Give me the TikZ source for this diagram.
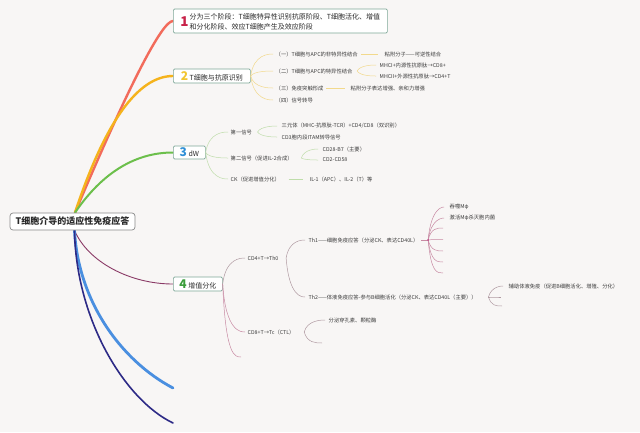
\documentclass[tikz,border=0pt]{standalone}
\usepackage{fontspec}
\setmainfont{Noto Sans CJK SC}
\usetikzlibrary{calc}
\definecolor{bgc}{HTML}{F8F6F5}
\definecolor{txt}{HTML}{3C3C3C}
\definecolor{txt2}{HTML}{2A2A2A}
\definecolor{boxc}{HTML}{7FA898}
\definecolor{rootc}{HTML}{8A8A8A}
\definecolor{la}{HTML}{F26B5B}
\definecolor{lb}{HTML}{F5B31C}
\definecolor{lc}{HTML}{6CBF4B}
\definecolor{ld}{HTML}{8A3A66}
\definecolor{le}{HTML}{4A8FE0}
\definecolor{lf}{HTML}{2D2A86}
\definecolor{tw2}{HTML}{F2D98C}
\definecolor{tw3}{HTML}{BFDDAA}
\definecolor{tw4}{HTML}{B09AA2}
\definecolor{tw4b}{HTML}{C88AA3}
\definecolor{na}{HTML}{C8234A}
\definecolor{nb}{HTML}{F2C530}
\definecolor{nc}{HTML}{2E8FD6}
\definecolor{nd}{HTML}{3A9D3A}
\definecolor{dotc}{HTML}{C04A88}
\pgfdeclarelayer{back}
\pgfsetlayers{back,main}
\newcommand{\dg}[2]{{\fontsize{12}{12}\selectfont\bfseries\textcolor{#1}{#2}}}
\newcommand{\twig}[3][]{\draw[#1] (#2) .. controls ($(#2 |- #3)+(3,0)$) and ($(#3)+(-6,0)$) .. (#3);}
\tikzset{
  sm/.style={font=\fontsize{5.3}{6.5}\selectfont, text=txt, inner sep=0.5pt, anchor=west},
  topic/.style={draw=boxc, line width=0.7pt, fill=white, rounded corners=1.2pt, inner sep=0pt,
    anchor=west, font=\fontsize{7}{8}\selectfont, text=txt2},
  mainln/.style={line cap=round},
  thin2/.style={tw2, line width=0.5pt},
  thin3/.style={tw3, line width=0.5pt},
  thin4/.style={tw4, line width=0.5pt},
  thin4b/.style={tw4b, line width=0.5pt},
}
\begin{document}
\begin{tikzpicture}[x=1pt,y=-1pt]
\useasboundingbox (0,0) rectangle (640,432);
\begin{pgfonlayer}{back}
\fill[bgc] (0,0) rectangle (640,432);
\end{pgfonlayer}

% root
\node[draw=rootc, line width=0.7pt, fill=white, rounded corners=3pt, minimum width=125pt,
  minimum height=17pt, inner sep=0pt, font=\fontsize{9}{9}\selectfont\bfseries, text=txt2]
  (root) at (72.5,221.5) {T细胞介导的适应性免疫应答};
\coordinate (rt) at ($(root.north)+(2.5,0)$);
\coordinate (rb) at ($(root.south)+(2,0)$);

% topic boxes
\node[topic, minimum width=214pt, minimum height=24pt] (b1) at (173,21) {};
\node[inner sep=0pt, font=\fontsize{13.5}{13.5}\selectfont\bfseries, text=na] (b1n) at (184.5,22) {1};
\node[inner sep=0pt, anchor=west, text=txt2, font=\fontsize{7}{9}\selectfont] (b1t1) at (189.5,17) {分为三个阶段：T细胞特异性识别抗原阶段、T细胞活化、增值};
\node[inner sep=0pt, anchor=west, text=txt2, font=\fontsize{7}{9}\selectfont] (b1t2) at (189.5,26.5) {和分化阶段、效应T细胞产生及效应阶段};
\node[topic, minimum width=77pt, minimum height=14pt] (b2) at (173,76) {\dg{nb}{2}\hspace{1.5pt}T细胞与抗原识别};
\node[topic, minimum width=32pt, minimum height=13pt] (b3) at (173,152.5) {\dg{nc}{3}\hspace{1.5pt}dW};
\node[topic, minimum width=49pt, minimum height=14pt] (b4) at (173,284) {\dg{nd}{4}\hspace{1.5pt}增值分化};

% free ends of the two untitled main branches
\coordinate (m5) at (173,388);
\coordinate (m6) at (173,423);

\begin{pgfonlayer}{back}
\draw[mainln, la, line width=2.4pt] (rt) .. controls (129,85) and (162,21) .. (b1.west);
\draw[mainln, lb, line width=2.4pt] (rt) .. controls (105,122) and (138,76) .. (b2.west);
\draw[mainln, lc, line width=2pt] (rt) .. controls (102,173) and (135,152.5) .. (b3.west);
\draw[mainln, ld, line width=0.9pt] (rb) .. controls (88,262) and (130,284) .. (b4.west);
\draw[mainln, le, line width=2.8pt] (rb) .. controls (78,300) and (120,360) .. (m5);
\draw[mainln, lf, line width=1.6pt] (rb) .. controls (76,320) and (125,400) .. (m6);
\end{pgfonlayer}

% branch 2
\node[sm] (c21) at (275,54) {（一）T细胞与APC的非特异性结合};
\node[sm] (c21a) at (384,54) {粘附分子——可逆性结合};
\node[sm] (c22) at (275,71) {（二）T细胞与APC的特异性结合};
\node[sm] (c22a) at (379,65) {MHCI+内源性抗原肽→CD8+};
\node[sm] (c22b) at (379,76) {MHCII+外源性抗原肽→CD4+T};
\node[sm] (c23) at (275,88) {（三）免疫突触形成};
\node[sm] (c23a) at (350,88) {粘附分子表达增强、亲和力增强};
\node[sm] (c24) at (275,100) {（四）信号转导};
\twig[thin2, shorten >=2pt]{b2.east}{c21.west}
\twig[thin2, shorten >=2pt]{b2.east}{c22.west}
\twig[thin2, shorten >=2pt]{b2.east}{c23.west}
\twig[thin2, shorten >=2pt]{b2.east}{c24.west}
\draw[thin2, shorten <=3pt, shorten >=6pt] (c21) -- (c21a);
\coordinate (f22) at ($(c22.east)+(4,0)$);
\twig[thin2, shorten >=3pt]{f22}{c22a.west}
\twig[thin2, shorten >=3pt]{f22}{c22b.west}
\draw[thin2, shorten <=2pt, shorten >=5pt] (c23) -- (c23a);

% branch 3
\node[sm] (c31) at (230,132) {第一信号};
\node[sm] (c31a) at (281,126) {三元体（MHC-抗原肽-TCR）+CD4/CD8（双识别）};
\node[sm] (c31b) at (281,137) {CD3胞内段ITAM转导信号};
\node[sm] (c32) at (230,158) {第二信号（促进IL-2合成）};
\node[sm] (c32a) at (322,149) {CD28-B7（主要）};
\node[sm] (c32b) at (322,160) {CD2-CD58};
\node[sm] (c33) at (230,179) {CK（促进增值分化）};
\node[sm] (c33a) at (309,179) {IL-1（APC）、IL-2（T）等};
\twig[thin3, shorten >=2pt]{b3.east}{c31.west}
\twig[thin3, shorten >=2pt]{b3.east}{c32.west}
\twig[thin3, shorten >=2pt]{b3.east}{c33.west}
\coordinate (f31) at ($(c31.east)+(5,0)$);
\twig[thin3, shorten >=4pt]{f31}{c31a.west}
\twig[thin3, shorten >=4pt]{f31}{c31b.west}
\coordinate (f32) at ($(c32.east)+(8,0)$);
\twig[thin3, shorten >=4pt]{f32}{c32a.west}
\twig[thin3, shorten >=4pt]{f32}{c32b.west}
\draw[thin3, shorten <=8pt, shorten >=6pt] (c33) -- (c33a);

% branch 4
\node[sm] (c41) at (247,258) {CD4+T→Th0};
\node[sm] (c411) at (308,240) {Th1——细胞免疫应答（分泌CK、表达CD40L）};
\node[sm] (c412) at (308,297) {Th2——体液免疫应答-参与B细胞活化（分泌CK、表达CD40L（主要））};
\node[sm] (c42) at (247,332) {CD8+T→Tc（CTL）};
\node[sm] (c42a) at (328,320) {分泌穿孔素、颗粒酶};
\coordinate (e4) at (241,357);
\twig[thin4, shorten >=2pt]{b4.east}{c41.west}
\twig[thin4b, shorten >=2pt]{b4.east}{c42.west}
\twig[thin4b]{b4.east}{e4}

\coordinate (f41) at ($(c41.east)+(7,0)$);
\twig[thin4, shorten >=3pt]{f41}{c411.west}
\twig[thin4, shorten >=3pt]{f41}{c412.west}

% Th1 leaves
\coordinate (f411) at ($(c411.east)+(9,0)$);
\node[sm] (l1) at (449,207) {吞噬Mφ};
\node[sm] (l2) at (449,218) {激活Mφ杀灭胞内菌};
\coordinate (e3) at (443,228);
\coordinate (e4b) at (443,239.5);
\coordinate (e5) at (443,251);
\coordinate (e6) at (443,262);
\coordinate (e7) at (443,273);
\draw[thin4b, shorten <=2pt] (c411.east) -- (f411);
\twig[thin4b, shorten >=5pt]{f411}{l1.west}
\twig[thin4b, shorten >=5pt]{f411}{l2.west}
\twig[thin4b]{f411}{e3}
\twig[thin4b]{f411}{e4b}
\twig[thin4b]{f411}{e5}
\twig[thin4b]{f411}{e6}
\twig[thin4b]{f411}{e7}
\fill[dotc] (f411) circle (1.1pt);

% Th2 leaves
\coordinate (f412) at ($(c412.east)+(11,0)$);
\node[sm] (l412) at (508,286) {辅助体液免疫（促进B细胞活化、增殖、分化）};
\coordinate (g2) at (501,297);
\coordinate (g3) at (502,306);
\twig[thin4, shorten >=5pt]{f412}{l412.west}
\twig[thin4]{f412}{g2}
\twig[thin4]{f412}{g3}

% CD8 leaves
\coordinate (f42) at ($(c42.east)+(9,0)$);
\coordinate (h2) at (322,343);
\twig[thin4, shorten >=3pt]{f42}{c42a.west}
\twig[thin4]{f42}{h2}
\end{tikzpicture}
\end{document}
